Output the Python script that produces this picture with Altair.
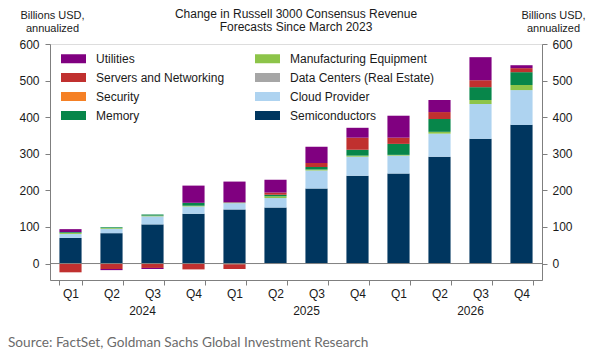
import altair as alt
import pandas as pd

quarters = ["Q1", "Q2", "Q3", "Q4"] * 3
years = ["2024"] * 4 + ["2025"] * 4 + ["2026"] * 4
periods = [f"{y} {q}" for y, q in zip(years, quarters)]

# stack order, bottom to top
series = ["Semiconductors", "Cloud Provider", "Data Centers (Real Estate)",
          "Manufacturing Equipment", "Memory", "Security",
          "Servers and Networking", "Utilities"]

semiconductors = [70, 83, 107, 136, 148, 153, 205, 240, 246, 292, 341, 379]
cloud_provider = [11, 12, 22, 20, 17, 26, 49, 52, 49, 63, 95, 95]
data_centers = [0, 0, 0, 0, 0, 0, 0, 0, 0, 0, 0, 0]
manufacturing = [3, 2, 2, 2, 2, 5, 3, 3, 2, 5, 11, 14]
memory = [2, 2, 3, 8, -2, 4, 7, 16, 30, 35, 35, 35]
security = [0, 0, 0, 0, 0, 0, 0, 0, 0, 0, 0, 0]
servers = [-24, -15, -12, -16, -13, 6, 11, 33, 17, 19, 19, 11]
utilities = [8, -3, -3, 47, 57, 35, 44, 27, 60, 33, 63, 8]

values = [semiconductors, cloud_provider, data_centers, manufacturing,
          memory, security, servers, utilities]

legend_order = ["Utilities", "Manufacturing Equipment", "Servers and Networking",
                "Data Centers (Real Estate)", "Security", "Cloud Provider",
                "Memory", "Semiconductors"]
colors = {"Utilities": "#800080", "Manufacturing Equipment": "#8DC449",
          "Servers and Networking": "#C0302F", "Data Centers (Real Estate)": "#A6A6A6",
          "Security": "#F58025", "Cloud Provider": "#AED3F0",
          "Memory": "#07864A", "Semiconductors": "#00365F"}

year_labels = ["2024", "2025", "2026"]
year_pos = ["2024 Q3", "2025 Q3", "2026 Q3"]

title_text = "Change in Russell 3000 Consensus Revenue\nForecasts Since March 2023"
source_text = "Source: FactSet, Goldman Sachs Global Investment Research"

rows = []
for j, s in enumerate(series):
    for i, p in enumerate(periods):
        rows.append({"period": p, "series": s, "value": values[j][i], "order": j})
df = pd.DataFrame(rows)

FONT = "Liberation Sans"
AX = "#7F7F7F"
TXT = "#1A1A1A"
W, H = 492, 236
ydom = [-45, 600]

xenc = alt.X("period:N", sort=periods,
             scale=alt.Scale(paddingInner=0.46, paddingOuter=0.23),
             axis=alt.Axis(title=None, labelExpr="split(datum.label, ' ')[1]",
                           tickBand="extent", tickSize=5, labelPadding=3,
                           labelFontSize=12, labelFont=FONT, labelColor=TXT,
                           domainColor=AX, tickColor=AX, labelAngle=0))


def yaxis(orient, tx, pad):
    return alt.Axis(values=[0, 100, 200, 300, 400, 500, 600], orient=orient,
                    title=["Billions USD,", "annualized"], titleAngle=0,
                    titleAlign="center", titleBaseline="top", titleX=tx, titleY=-34.5,
                    titleFont=FONT, titleFontSize=11, titleFontWeight="normal",
                    titleColor=TXT, titleLineHeight=13,
                    tickSize=5, labelPadding=pad, labelFontSize=12, labelFont=FONT,
                    labelColor=TXT, domainColor=AX, tickColor=AX, grid=False)


bars = alt.Chart(df).mark_bar().encode(
    x=xenc,
    y=alt.Y("value:Q", stack="zero",
            scale=alt.Scale(domain=ydom, nice=False, zero=False),
            axis=yaxis("left", 2, 6)),
    color=alt.Color("series:N",
                    scale=alt.Scale(domain=legend_order,
                                    range=[colors[s] for s in legend_order]),
                    legend=alt.Legend(title=None, orient="none", legendX=11, legendY=2,
                                      columns=2, direction="horizontal",
                                      symbolType="M-1,-0.36H1V0.36H-1Z",
                                      symbolSize=625, symbolStrokeWidth=0,
                                      symbolOpacity=1,
                                      labelFont=FONT, labelFontSize=12, labelColor=TXT,
                                      labelOffset=10, rowPadding=-0.4, columnPadding=30,
                                      padding=0, labelLimit=300)),
    order=alt.Order("order:Q"),
)

zero = alt.Chart(pd.DataFrame({"y": [0]})).mark_rule(color="#808080", strokeWidth=1).encode(
    y=alt.Y("y:Q", scale=alt.Scale(domain=ydom, nice=False, zero=False),
            axis=yaxis("right", 11, 5)),
)

yrs = alt.Chart(pd.DataFrame({"period": year_pos, "year": year_labels})).mark_text(
    font=FONT, fontSize=12, color=TXT, baseline="middle", dx=-10
).encode(x=alt.X("period:N", sort=periods), y=alt.value(H + 31), text="year:N")

ttl = alt.Chart(pd.DataFrame({"t": [title_text]})).mark_text(
    font=FONT, fontSize=12, color=TXT, align="center", baseline="top",
    lineBreak="\n", lineHeight=13
).encode(x=alt.value(W / 2), y=alt.value(-35), text="t:N")

src = alt.Chart(pd.DataFrame({"t": [source_text]})).mark_text(
    font="Lato", fontSize=13.65, color="#6B6B6B", align="left", baseline="middle"
).encode(x=alt.value(-42), y=alt.value(299), text="t:N")

chart = alt.layer(bars, zero, yrs, ttl, src).resolve_scale(y="independent").properties(
    width=W, height=H,
    autosize=alt.AutoSizeParams(type="none"),
    padding={"left": 50, "top": 44, "right": 53, "bottom": 74},
).configure_view(stroke=None).configure(background="white")

chart.save("out.html", embed_options={"renderer": "svg", "actions": False})
